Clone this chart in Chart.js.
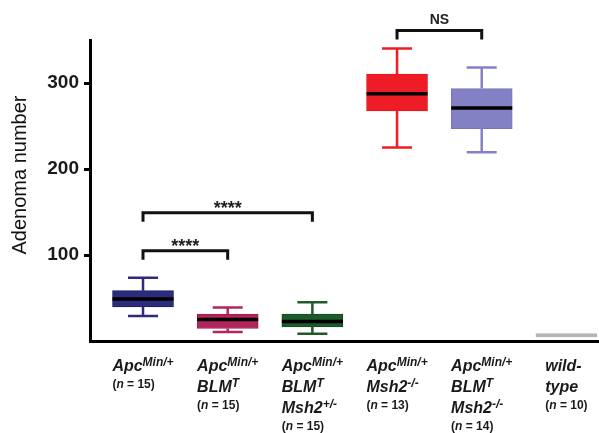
<!DOCTYPE html>
<html>
<head>
<meta charset="utf-8">
<script src="https://cdn.jsdelivr.net/npm/chart.js@4.4.1/dist/chart.umd.min.js"></script>
<style>
    html, body { margin: 0; padding: 0; background: #ffffff; }
    canvas { display: block; }
</style>
</head>
<body>
<canvas id="grafico" width="599" height="433"></canvas>
<script>

// groups (x positions are 0..5)
const genotypes = ['ApcMin/+', 'ApcMin/+ BLMT', 'ApcMin/+ BLMT Msh2+/-', 'ApcMin/+ Msh2-/-', 'ApcMin/+ BLMT Msh2-/-', 'wild-type'];
const nMice = [15, 15, 15, 13, 14, 10];

// label lines: [text, superscript]
const labelLines = [
    [['Apc', 'Min/+']],
    [['Apc', 'Min/+'], ['BLM', 'T']],
    [['Apc', 'Min/+'], ['BLM', 'T'], ['Msh2', '+/-']],
    [['Apc', 'Min/+'], ['Msh2', '-/-']],
    [['Apc', 'Min/+'], ['BLM', 'T'], ['Msh2', '-/-']],
    [['wild-', ''], ['type', '']]
];

// box plot values (adenoma number)
const whiskerLow = [29, 10.5, 8.5, 225, 219.5, null];
const q1 = [39.5, 14.5, 16.5, 267.5, 247, 4.8];
const medians = [48.7, 25, 22.7, 287.5, 271, null];
const q3 = [58.5, 31.2, 31.2, 310.5, 293.5, 8.5];
const whiskerHigh = [73.5, 39, 45, 340, 318, null];

// significance brackets
const compFrom = [0, 0, 3];
const compTo = [1, 2, 4];
const compHeight = [105, 149, 361];
const compText = ['****', '****', 'NS'];

const yTicks = [100, 200, 300];

const boxColors = ['#2d2b7d', '#b3255c', '#1e5b2b', '#ee1c24', '#8381c3', '#b4b4b4'];
const boxBorders = ['#1f1d66', '#9c1c4d', '#164a21', '#e01a22', '#7775b8', '#b4b4b4'];

const fontFam = "'Liberation Sans', Arial, Helvetica, sans-serif";

function drawParts(ctx, parts, x, y) {
    for (var p of parts) {
        ctx.font = p.font;
        ctx.fillText(p.text, x, y + (p.dy || 0));
        x += ctx.measureText(p.text).width;
    }
}

function partsWidth(ctx, parts) {
    var w = 0;
    for (var p of parts) {
        ctx.font = p.font;
        w += ctx.measureText(p.text).width;
    }
    return w;
}

const boxExtras = {
    id: 'boxExtras',
    afterDatasetsDraw(chart) {
        const ctx = chart.ctx;
        const xs = chart.scales.x;
        const ys = chart.scales.y;
        ctx.save();
        for (let i = 0; i < genotypes.length; i++) {
            const x = xs.getPixelForValue(i);
            if (whiskerLow[i] != null) {
                const yHi = ys.getPixelForValue(whiskerHigh[i]);
                const yLo = ys.getPixelForValue(whiskerLow[i]);
                ctx.strokeStyle = boxColors[i];
                ctx.lineWidth = 2.5;
                ctx.beginPath();
                ctx.moveTo(x, ys.getPixelForValue(q3[i]));
                ctx.lineTo(x, yHi);
                ctx.moveTo(x - 15, yHi);
                ctx.lineTo(x + 15, yHi);
                ctx.moveTo(x, ys.getPixelForValue(q1[i]));
                ctx.lineTo(x, yLo);
                ctx.moveTo(x - 15, yLo);
                ctx.lineTo(x + 15, yLo);
                ctx.stroke();
            }
            if (medians[i] != null) {
                const yM = ys.getPixelForValue(medians[i]);
                ctx.strokeStyle = '#000';
                ctx.lineWidth = 3.5;
                ctx.beginPath();
                ctx.moveTo(x - 30.5, yM);
                ctx.lineTo(x + 30.5, yM);
                ctx.stroke();
            }
        }
        ctx.restore();
    },
    afterDraw(chart) {
        const ctx = chart.ctx;
        const xs = chart.scales.x;
        const ys = chart.scales.y;
        ctx.save();

        // brackets
        for (let k = 0; k < compText.length; k++) {
            const xa = xs.getPixelForValue(compFrom[k]);
            const xb = xs.getPixelForValue(compTo[k]);
            const yb = ys.getPixelForValue(compHeight[k]);
            ctx.strokeStyle = '#111';
            ctx.lineWidth = 3;
            ctx.lineJoin = 'miter';
            ctx.beginPath();
            ctx.moveTo(xa, yb + 9);
            ctx.lineTo(xa, yb);
            ctx.lineTo(xb, yb);
            ctx.lineTo(xb, yb + 9);
            ctx.stroke();
            ctx.fillStyle = '#222';
            ctx.textAlign = 'center';
            ctx.textBaseline = 'alphabetic';
            if (compText[k] == 'NS') {
                ctx.font = 'bold 14px ' + fontFam;
                ctx.fillText(compText[k], (xa + xb) / 2, yb - 7);
            } else {
                ctx.font = 'bold 18px ' + fontFam;
                ctx.fillText(compText[k], (xa + xb) / 2, yb + 1);
            }
        }

        // x labels
        ctx.textAlign = 'left';
        ctx.fillStyle = '#1a1a1a';
        const big = 'italic bold 16px ' + fontFam;
        const sup = 'italic bold 12px ' + fontFam;
        const small = 'bold 12px ' + fontFam;
        const smallIt = 'italic bold 12px ' + fontFam;
        for (let i = 0; i < genotypes.length; i++) {
            const x = xs.getPixelForValue(i);
            const rows = labelLines[i].map(l => [
                { text: l[0], font: big },
                { text: l[1], font: sup, dy: -5 }
            ]);
            const nRow = [
                { text: '(', font: small },
                { text: 'n', font: smallIt },
                { text: ' = ' + nMice[i] + ')', font: small }
            ];
            var maxW = partsWidth(ctx, nRow);
            for (var r of rows) maxW = Math.max(maxW, partsWidth(ctx, r));
            const left = x - maxW / 2;
            var yy = 371;
            for (let j = 0; j < rows.length; j++) {
                drawParts(ctx, rows[j], left, yy + j * 21);
            }
            drawParts(ctx, nRow, left, yy + (rows.length - 1) * 21 + 17);
        }

        // y title
        ctx.translate(20, 175);
        ctx.rotate(-Math.PI / 2);
        ctx.textAlign = 'center';
        ctx.textBaseline = 'middle';
        ctx.font = '20px ' + fontFam;
        ctx.fillStyle = '#111';
        ctx.fillText('Adenoma number', 0, 0);
        ctx.restore();
    }
};

function plotChart() {
    var boxes = [];
    for (let i = 0; i < genotypes.length; i++) {
        boxes.push({ x: i, y: [q1[i], q3[i]] });
    }

    let grafico = new Chart(document.getElementById('grafico'), {
        type: 'bar',
        data: {
            datasets: [{
                data: boxes,
                backgroundColor: boxColors,
                borderColor: boxBorders,
                borderWidth: 1,
                borderSkipped: false,
                barThickness: 61
            }]
        },
        options: {
            responsive: false,
            animation: false,
            devicePixelRatio: 1,
            layout: { padding: { top: 40, left: 0, right: 0, bottom: 0 } },
            plugins: {
                legend: { display: false },
                tooltip: { enabled: false }
            },
            scales: {
                x: {
                    type: 'linear',
                    offset: false,
                    min: -0.626,
                    max: 5.385,
                    ticks: { display: false },
                    grid: { display: false },
                    border: { display: true, color: '#000', width: 3 },
                    afterFit: s => { s.height = 92; }
                },
                y: {
                    min: 0,
                    max: 350,
                    afterBuildTicks: s => { s.ticks = yTicks.map(v => ({ value: v })); },
                    ticks: {
                        color: '#1a1a1a',
                        padding: 5,
                        font: { family: fontFam, size: 19, weight: 'bold' }
                    },
                    grid: {
                        drawOnChartArea: false,
                        drawTicks: true,
                        tickLength: 6,
                        lineWidth: 3,
                        color: '#000'
                    },
                    border: { display: true, color: '#000', width: 3 },
                    afterFit: s => { s.width = 90; }
                }
            }
        },
        plugins: [boxExtras]
    });
}

plotChart();
</script>
</body>
</html>
